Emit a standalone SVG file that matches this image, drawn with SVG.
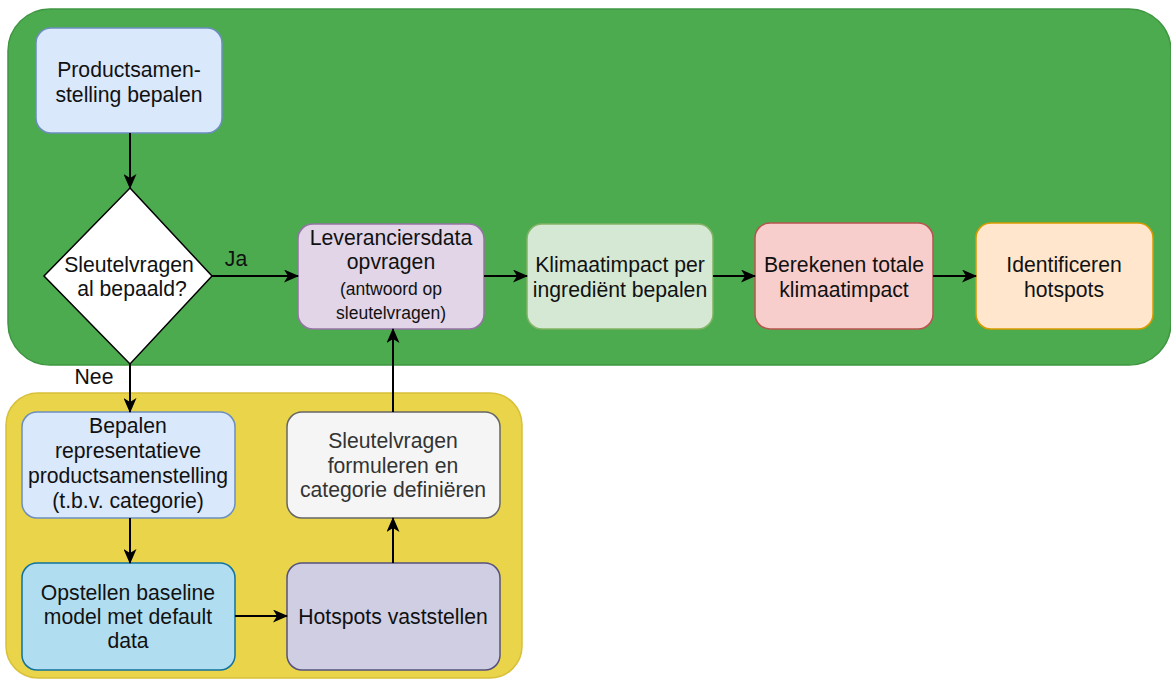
<svg xmlns="http://www.w3.org/2000/svg" width="1171" height="680" viewBox="0 0 1171 680">
<style>
text{font-family:"Liberation Sans",Arial,sans-serif;font-size:21.2px;fill:#111;text-anchor:middle}
.s{font-size:17.5px}
.g{fill:#333}
.c{stroke:#000;stroke-width:2;fill:none;marker-end:url(#a)}
rect.n{stroke-width:1.5}
</style>
<defs>
<marker id="a" markerUnits="userSpaceOnUse" markerWidth="15" markerHeight="13" refX="14" refY="6.5" orient="auto">
<path d="M0,0 L15,6.5 L0,13 L4,6.5 z" fill="#000"/>
</marker>
</defs>
<rect id="grp-green" x="8" y="9" width="1163" height="356" rx="42" fill="#4dab4f" stroke="#3f9641" stroke-width="1.5"/>
<rect id="grp-yellow" x="6" y="393" width="516" height="285" rx="32" fill="#e9d44a" stroke="#d8c03a" stroke-width="1.5"/>
<g id="n1"><rect class="n" x="36" y="28" width="186" height="105" rx="15" fill="#dae8fc" stroke="#6c8ebf"/>
<text x="129" y="77">Productsamen-</text><text x="129" y="102">stelling bepalen</text></g>
<g id="n2"><polygon points="130,188 212,276 130,364 44,276" fill="#fff" stroke="#000" stroke-width="1.5"/>
<text x="129" y="272">Sleutelvragen</text><text x="132" y="296">al bepaald?</text></g>
<g id="n3"><rect class="n" x="298" y="224" width="186" height="105" rx="15" fill="#e1d5e7" stroke="#9673a6"/>
<text x="391" y="245">Leveranciersdata</text><text x="391" y="269">opvragen</text>
<text class="s" x="391" y="295">(antwoord op</text><text class="s" x="391" y="319">sleutelvragen)</text></g>
<g id="n4"><rect class="n" x="527" y="224" width="186" height="105" rx="15" fill="#d5e8d4" stroke="#82b366"/>
<text x="620" y="272">Klimaatimpact per</text><text x="620" y="297">ingrediënt bepalen</text></g>
<g id="n5"><rect class="n" x="755" y="223" width="178" height="106" rx="15" fill="#f8cecc" stroke="#b85450"/>
<text x="844" y="272">Berekenen totale</text><text x="844" y="297">klimaatimpact</text></g>
<g id="n6"><rect class="n" x="976" y="223" width="177" height="106" rx="15" fill="#ffe6cc" stroke="#d79b00"/>
<text x="1064" y="272">Identificeren</text><text x="1064" y="297">hotspots</text></g>
<g id="n7"><rect class="n" x="22" y="412" width="213" height="106" rx="15" fill="#dae8fc" stroke="#6c8ebf"/>
<text x="128" y="433">Bepalen</text><text x="128" y="458">representatieve</text><text x="128" y="483">productsamenstelling</text><text x="128" y="508">(t.b.v. categorie)</text></g>
<g id="n8"><rect class="n" x="22" y="563" width="213" height="107" rx="15" fill="#b1ddf0" stroke="#10739e"/>
<text x="128" y="600">Opstellen baseline</text><text x="128" y="624">model met default</text><text x="128" y="648">data</text></g>
<g id="n9"><rect class="n" x="287" y="412" width="213" height="106" rx="15" fill="#f5f5f5" stroke="#666"/>
<text class="g" x="393" y="448">Sleutelvragen</text><text class="g" x="393" y="473">formuleren en</text><text class="g" x="393" y="497">categorie definiëren</text></g>
<g id="n10"><rect class="n" x="287" y="563" width="213" height="107" rx="15" fill="#d0cee2" stroke="#56517e"/>
<text x="393" y="624">Hotspots vaststellen</text></g>
<g id="connectors">
<path class="c" d="M130,133 L130,188"/>
<path class="c" d="M212,276 L298,276"/>
<path class="c" d="M484,276 L527,276"/>
<path class="c" d="M713,276 L755,276"/>
<path class="c" d="M933,276 L976,276"/>
<path class="c" d="M130,364 L130,412"/>
<path class="c" d="M130,518 L130,563"/>
<path class="c" d="M235,616 L287,616"/>
<path class="c" d="M393,563 L393,518"/>
<path class="c" d="M393,412 L393,329"/>
<text x="236" y="266">Ja</text>
<text x="94" y="384">Nee</text>
</g>
</svg>
